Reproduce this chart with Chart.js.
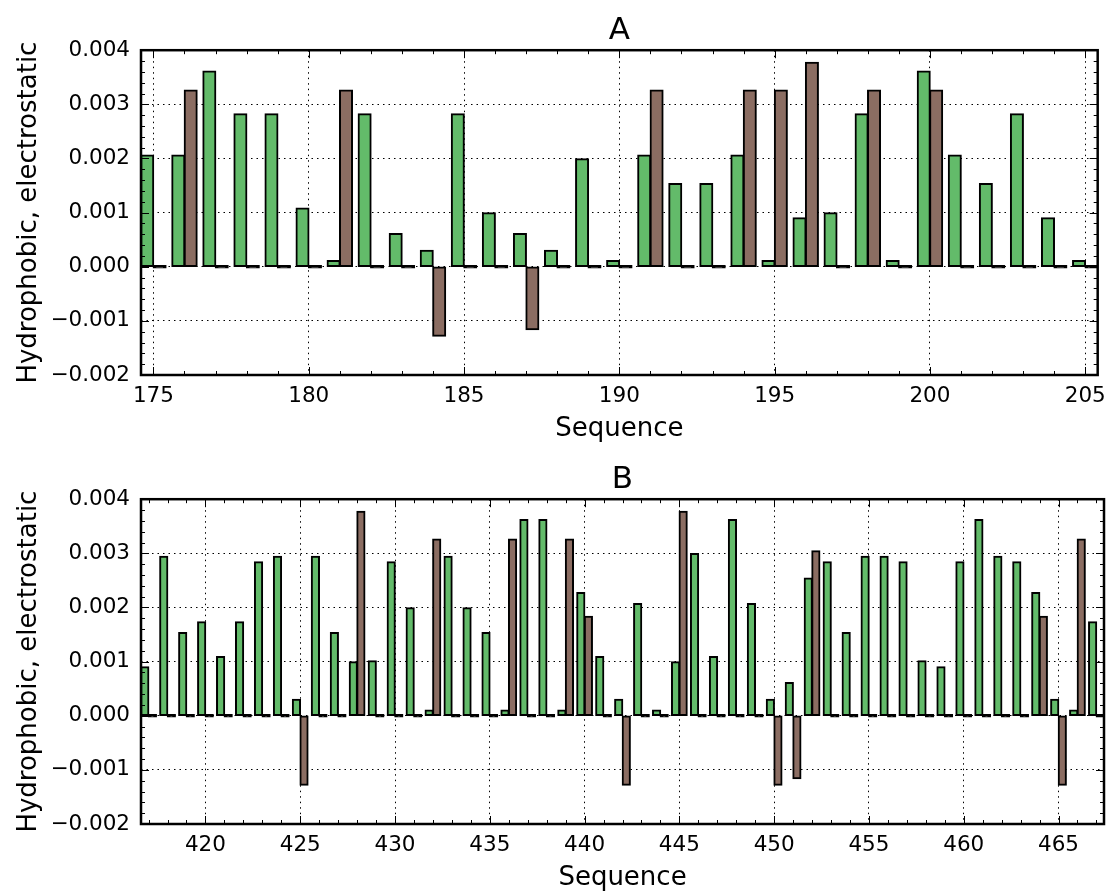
<!DOCTYPE html>
<html>
<head>
<meta charset="utf-8">
<script src="https://cdn.jsdelivr.net/npm/chart.js@4/dist/chart.umd.min.js"></script>
<style>
    html, body { margin: 0; padding: 0; background: #fff; overflow: hidden; }
    canvas { position: absolute; left: 0; }
    #chartA { top: 0; }
    #chartB { top: 449px; }
</style>
</head>
<body>
<canvas id="chartA" width="1115" height="445"></canvas>
<canvas id="chartB" width="1115" height="445"></canvas>
<script>
// panel A: residues 175-205
const seqA = [175, 176, 177, 178, 179, 180, 181, 182, 183, 184, 185, 186, 187, 188, 189, 190,
    191, 192, 193, 194, 195, 196, 197, 198, 199, 200, 201, 202, 203, 204, 205];
const hydroA = [0.00206, 0.00206, 0.00361, 0.00282, 0.00282, 0.00108, 0.00011, 0.00282, 0.00061, 0.0003,
    0.00282, 0.00099, 0.00061, 0.0003, 0.00199, 0.00011, 0.00206, 0.00153, 0.00153, 0.00206,
    0.00011, 0.0009, 0.00099, 0.00282, 0.00011, 0.00361, 0.00206, 0.00153, 0.00282, 0.0009, 0.00011];
const elecA = [0, 0.00326, 0, 0, 0, 0, 0.00326, 0, 0, -0.00128,
    0, 0, -0.00116, 0, 0, 0, 0.00326, 0, 0, 0.00326,
    0.00326, 0.00377, 0, 0.00326, 0, 0.00326, 0, 0, 0, 0, 0];
const xTicksA = [175, 180, 185, 190, 195, 200, 205];

// panel B: residues 417-467
const seqB = [417, 418, 419, 420, 421, 422, 423, 424, 425, 426, 427, 428, 429, 430, 431, 432, 433,
    434, 435, 436, 437, 438, 439, 440, 441, 442, 443, 444, 445, 446, 447, 448, 449, 450,
    451, 452, 453, 454, 455, 456, 457, 458, 459, 460, 461, 462, 463, 464, 465, 466, 467];
const hydroB = [0.0009, 0.00294, 0.00153, 0.00173, 0.00109, 0.00173, 0.00284, 0.00294, 0.0003, 0.00294,
    0.00153, 0.00099, 0.00101, 0.00284, 0.00199, 0.0001, 0.00294, 0.00199, 0.00153, 0.0001,
    0.00362, 0.00362, 0.0001, 0.00227, 0.00109, 0.0003, 0.00207, 0.0001, 0.00099, 0.00299,
    0.00109, 0.00362, 0.00207, 0.0003, 0.00061, 0.00254, 0.00284, 0.00153, 0.00294, 0.00294,
    0.00284, 0.00101, 0.0009, 0.00284, 0.00362, 0.00294, 0.00284, 0.00227, 0.0003, 0.0001, 0.00173];
const elecB = [0, 0, 0, 0, 0, 0, 0, 0, -0.00128, 0,
    0, 0.00377, 0, 0, 0, 0.00326, 0, 0, 0, 0.00326,
    0, 0, 0.00326, 0.00183, 0, -0.00128, 0, 0, 0.00377, 0,
    0, 0, 0, -0.00128, -0.00116, 0.00304, 0, 0, 0, 0,
    0, 0, 0, 0, 0, 0, 0, 0.00183, -0.00128, 0.00326, 0];
const xTicksB = [420, 425, 430, 435, 440, 445, 450, 455, 460, 465];

const yTicks = [-0.002, -0.001, 0, 0.001, 0.002, 0.003, 0.004];

const GREEN = "#63bb6a";
const BROWN = "#8b6d62";
const FONT = "'DejaVu Sans', sans-serif";

// matplotlib-ish box with inward major/minor ticks on every side
const framePlugin = {
    id: "frame",
    afterDraw(chart) {
        const { ctx, chartArea: a, scales: { x, y } } = chart;
        ctx.save();
        ctx.strokeStyle = "#000";
        ctx.lineWidth = 1;
        ctx.beginPath();
        for (let v = Math.ceil(x.min); v <= x.max; v++) {
            const len = v % 5 === 0 ? 8 : 4;
            const px = Math.round(x.getPixelForValue(v)) + 0.5;
            ctx.moveTo(px, a.bottom); ctx.lineTo(px, a.bottom - len);
            ctx.moveTo(px, a.top); ctx.lineTo(px, a.top + len);
        }
        for (let k = Math.ceil(y.min / 0.0002 - 1e-6); k * 0.0002 <= y.max + 1e-9; k++) {
            const len = k % 5 === 0 ? 8 : 4;
            const py = Math.round(y.getPixelForValue(k * 0.0002)) + 0.5;
            ctx.moveTo(a.left, py); ctx.lineTo(a.left + len, py);
            ctx.moveTo(a.right, py); ctx.lineTo(a.right - len, py);
        }
        ctx.stroke();
        ctx.lineWidth = 2.5;
        ctx.strokeRect(a.left, a.top, a.right - a.left, a.bottom - a.top);
        ctx.restore();
    }
};

function fmtY(v) {
    if (Math.abs(v) < 1e-9) return "0.000";
    return v.toFixed(3).replace("-", "\u2212");
}

// zero-height bars show up as a flat black edge, like matplotlib does
function fillFor(color) {
    return c => (c.raw && c.raw.y === 0 ? "#000" : color);
}

function makeChart(id, title, seq, hydro, elec, xTicks) {
    const barStyle = {
        borderColor: "#000",
        borderWidth: 2,
        borderSkipped: false,
        minBarLength: 2,
        inflateAmount: 0.8,
        categoryPercentage: 0.8,
        barPercentage: 1.0
    };
    return new Chart(document.getElementById(id), {
        type: "bar",
        data: {
            datasets: [
                Object.assign({
                    label: "hydrophobic",
                    data: seq.map((s, i) => ({ x: s, y: hydro[i] })),
                    backgroundColor: fillFor(GREEN)
                }, barStyle),
                Object.assign({
                    label: "electrostatic",
                    data: seq.map((s, i) => ({ x: s, y: elec[i] })),
                    backgroundColor: fillFor(BROWN)
                }, barStyle)
            ]
        },
        options: {
            responsive: false,
            animation: false,
            layout: { padding: { left: 0, right: 11, top: 0, bottom: 0 } },
            plugins: {
                legend: { display: false },
                tooltip: { enabled: false },
                title: {
                    display: true,
                    fullSize: false,
                    text: title,
                    color: "#000",
                    font: { family: FONT, size: 31, weight: "normal" },
                    padding: { top: 12, bottom: 1 }
                }
            },
            scales: {
                x: {
                    type: "linear",
                    offset: false,
                    min: seq[0] - 0.4,
                    max: seq[seq.length - 1] + 0.4,
                    afterBuildTicks: s => { s.ticks = xTicks.map(v => ({ value: v })); },
                    afterFit: s => { s.height = 70; },
                    ticks: {
                        color: "#000",
                        font: { family: FONT, size: 21.5 },
                        padding: 9,
                        maxRotation: 0,
                        autoSkip: false,
                        callback: v => String(v)
                    },
                    grid: { color: "#000", lineWidth: 1, drawTicks: false, offset: false },
                    border: { display: false, dash: [1.5, 4] },
                    title: {
                        display: true,
                        text: "Sequence",
                        color: "#000",
                        font: { family: FONT, size: 26 },
                        padding: { top: 0, bottom: 0 }
                    }
                },
                y: {
                    min: -0.002,
                    max: 0.004,
                    afterBuildTicks: s => { s.ticks = yTicks.map(v => ({ value: v })); },
                    afterFit: s => { s.width = 141; },
                    ticks: {
                        color: "#000",
                        font: { family: FONT, size: 21.5 },
                        padding: 11,
                        callback: v => fmtY(v)
                    },
                    grid: { color: "#000", lineWidth: 1, drawTicks: false },
                    border: { display: false, dash: [1.5, 4] },
                    title: {
                        display: true,
                        text: "Hydrophobic, electrostatic",
                        color: "#000",
                        font: { family: FONT, size: 26 },
                        padding: { top: 14, bottom: 0 }
                    }
                }
            }
        },
        plugins: [framePlugin]
    });
}

makeChart("chartA", "A", seqA, hydroA, elecA, xTicksA);
makeChart("chartB", "B", seqB, hydroB, elecB, xTicksB);
</script>
</body>
</html>
